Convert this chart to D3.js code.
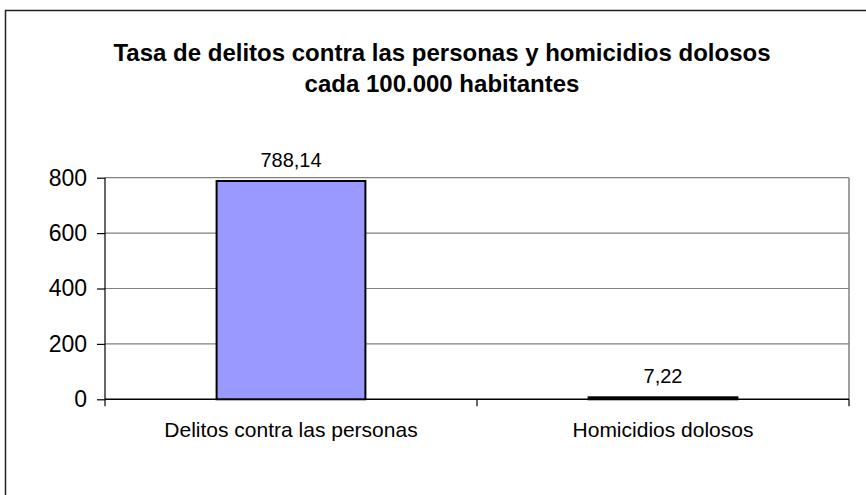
<!DOCTYPE html>
<html>
<head>
<meta charset="utf-8">
<script src="https://cdn.jsdelivr.net/npm/d3@7"></script>
<style>
  body { margin: 0; background: #fff; }
  svg text { font-family: "Liberation Sans", Arial, sans-serif; fill: #000; }
</style>
</head>
<body>
<svg width="866" height="495"></svg>
<script>
var titleLines = ["Tasa de delitos contra las personas y homicidios dolosos", "cada 100.000 habitantes"];
var categories = ["Delitos contra las personas", "Homicidios dolosos"];
var values = [788.14, 7.22];
var valueLabels = ["788,14", "7,22"];
var yTicks = [0, 200, 400, 600, 800];

var svg = d3.select("svg");

// chart frame
svg.append("rect")
    .attr("x", 5.5).attr("y", 10.5)
    .attr("width", 900).attr("height", 600)
    .attr("fill", "#fff")
    .attr("stroke", "#222")
    .attr("stroke-width", 1.5);

var plotLeft = 105, plotRight = 849, plotTop = 177.7, plotBottom = 399.3;

var x = d3.scaleBand()
    .domain(categories)
    .range([plotLeft, plotRight])
    .paddingInner(0.6)
    .paddingOuter(0.3);

var xSlot = d3.scaleBand().domain(categories).range([plotLeft, plotRight]);

var y = d3.scaleLinear().domain([0, 800]).range([plotBottom, plotTop]);

// title
svg.append("g").selectAll("text")
    .data(titleLines)
    .enter()
    .append("text")
    .attr("x", 442)
    .attr("y", function(d, i) { return 61 + i * 31; })
    .attr("text-anchor", "middle")
    .style("font-size", "24px")
    .style("font-weight", "bold")
    .text(function(d) { return d; });

// gridlines
svg.append("g").selectAll("line")
    .data(yTicks.slice(1))
    .enter()
    .append("line")
    .attr("x1", plotLeft).attr("x2", plotRight)
    .attr("y1", function(d) { return y(d); })
    .attr("y2", function(d) { return y(d); })
    .attr("stroke", "#808080")
    .attr("stroke-width", 1.2);

// right border of plot
svg.append("line")
    .attr("x1", plotRight).attr("x2", plotRight)
    .attr("y1", plotTop).attr("y2", plotBottom)
    .attr("stroke", "#808080")
    .attr("stroke-width", 1.5);

// y axis
var yAxis = svg.append("g")
    .attr("transform", "translate(" + plotLeft + ",0)")
    .call(d3.axisLeft(y).tickValues(yTicks).tickSize(8).tickPadding(10).tickFormat(d3.format("d")));
yAxis.selectAll("line, path").attr("stroke", "#000").attr("stroke-width", 1.2);
yAxis.select(".domain").attr("d", "M0," + plotTop + "V" + plotBottom);
yAxis.selectAll("text").style("font-size", "23px").style("font-family", "Liberation Sans, Arial, sans-serif");

// x axis
var xAxis = svg.append("g")
    .attr("transform", "translate(0," + plotBottom + ")");
xAxis.append("line")
    .attr("x1", plotLeft).attr("x2", plotRight)
    .attr("stroke", "#000").attr("stroke-width", 1.5);
xAxis.selectAll(".tick")
    .data([plotLeft].concat(categories.map(function(c) { return xSlot(c) + xSlot.bandwidth(); })))
    .enter()
    .append("line")
    .attr("x1", function(d) { return d; })
    .attr("x2", function(d) { return d; })
    .attr("y1", 0).attr("y2", 7)
    .attr("stroke", "#000").attr("stroke-width", 1.2);
xAxis.selectAll("text")
    .data(categories)
    .enter()
    .append("text")
    .attr("x", function(d) { return xSlot(d) + xSlot.bandwidth() / 2; })
    .attr("y", 37.5)
    .attr("text-anchor", "middle")
    .style("font-size", "21px")
    .text(function(d) { return d; });

// bars
svg.append("g").selectAll("rect")
    .data(values)
    .enter()
    .append("rect")
    .attr("x", function(d, i) { return x(categories[i]); })
    .attr("width", x.bandwidth())
    .attr("y", function(d) { return y(d); })
    .attr("height", function(d) { return plotBottom - y(d); })
    .attr("fill", "#9999ff")
    .attr("stroke", "#000")
    .attr("stroke-width", 2);

// value labels
svg.append("g").selectAll("text")
    .data(values)
    .enter()
    .append("text")
    .attr("x", function(d, i) { return x(categories[i]) + x.bandwidth() / 2; })
    .attr("y", function(d) { return y(d) - 14; })
    .attr("text-anchor", "middle")
    .style("font-size", "20px")
    .text(function(d, i) { return valueLabels[i]; });
</script>
</body>
</html>
